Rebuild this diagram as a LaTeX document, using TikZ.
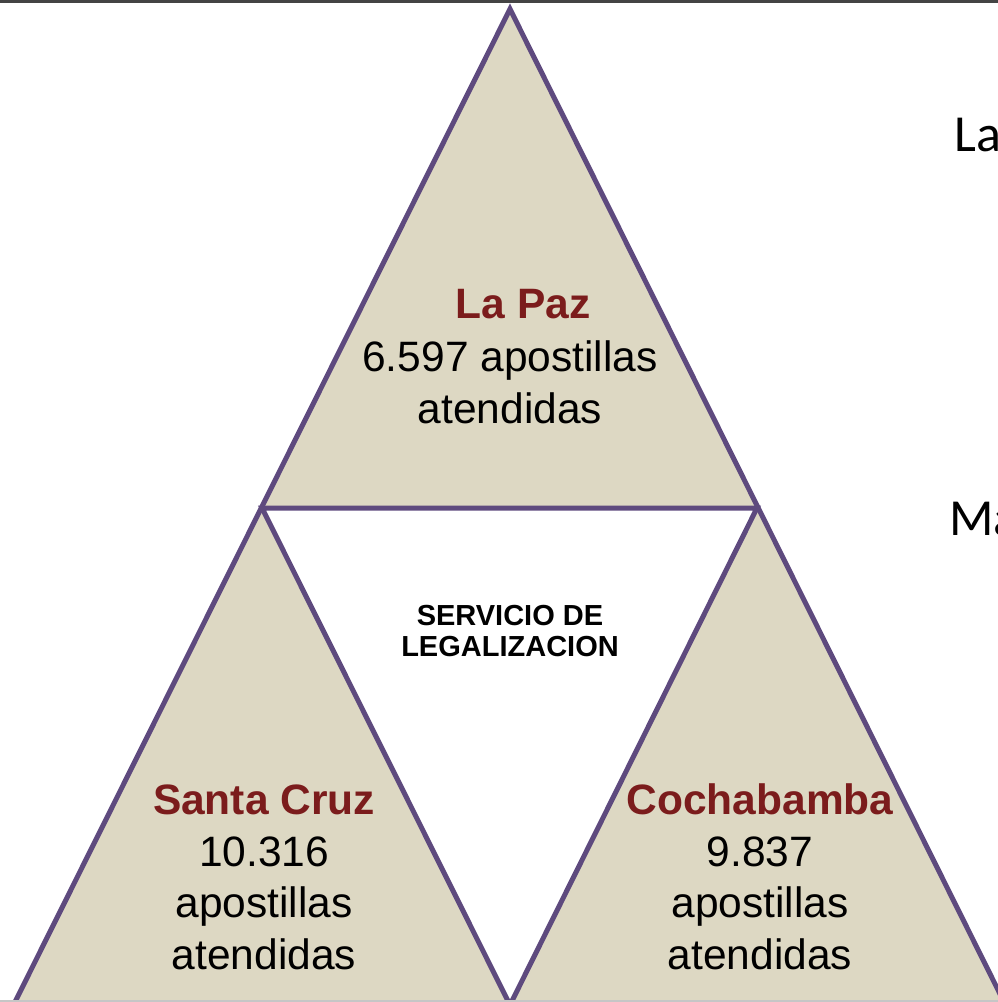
\documentclass[tikz,border=0pt]{standalone}
\usepackage{fontspec}
\setmainfont{Liberation Sans}
\newfontfamily\slidefont{Carlito}
\usetikzlibrary{positioning, calc}
\definecolor{tanfill}{HTML}{DDD8C3}
\definecolor{edgepurple}{HTML}{5E4A7E}
\definecolor{cityred}{HTML}{7B1C1C}
\definecolor{bargray}{HTML}{444444}

\begin{document}
\begin{tikzpicture}[
    x=1pt, y=-1pt,
    edge/.style={draw=edgepurple, line width=5pt, line join=miter},
    city/.style={font=\fontsize{42.5}{52}\selectfont\bfseries, text=cityred, inner sep=0pt, anchor=base},
    count/.style={font=\fontsize{42.5}{52}\selectfont, inner sep=0pt, anchor=base},
    center/.style={font=\fontsize{29}{31}\selectfont\bfseries, align=center, inner sep=0pt},
    side/.style={font=\slidefont\fontsize{52}{60}\selectfont, inner sep=0pt, anchor=base west},
]
\useasboundingbox (0,0) rectangle (998,1002);
\clip (0,0) rectangle (998,1002);

% corners of the pyramid
\coordinate (apex) at (510,9);
\coordinate (midl) at (262,508);
\coordinate (midr) at (757,508);
\coordinate (botl) at (12,1008);
\coordinate (botr) at (1007,1008);
\coordinate (botm) at (510,1005);

\fill[bargray] (0,0) rectangle (998,3);
\path[fill=tanfill, edge] (apex) -- (botr) -- (botl) -- cycle;
\path[fill=white, edge] (midl) -- (midr) -- (botm) -- cycle;
\draw[gray!45, line width=1.5pt] (0,1001) -- (998,1001);

% top triangle
\node[city] (lpname) at (523,318) {La Paz};
\node[count] (lpnum) at (510,371) {6.597 apostillas};
\node[count] (lpatt) at (510,423) {atendidas};

% middle
\node[center] (serv) at (510,631) {SERVICIO DE\\LEGALIZACION};

% left triangle
\node[city] (scname) at (264,814) {Santa Cruz};
\node[count] (scnum) at (264,866) {10.316};
\node[count] (scap) at (264,917) {apostillas};
\node[count] (scatt) at (264,969) {atendidas};

% right triangle
\node[city] (cbname) at (760,814) {Cochabamba};
\node[count] (cbnum) at (760,866) {9.837};
\node[count] (cbap) at (760,917) {apostillas};
\node[count] (cbatt) at (760,969) {atendidas};

% slide text cut off at the edge
\node[side] (la) at (954,151) {La};
\node[side] (ma) at (949,535) {Ma};
\end{tikzpicture}
\end{document}
